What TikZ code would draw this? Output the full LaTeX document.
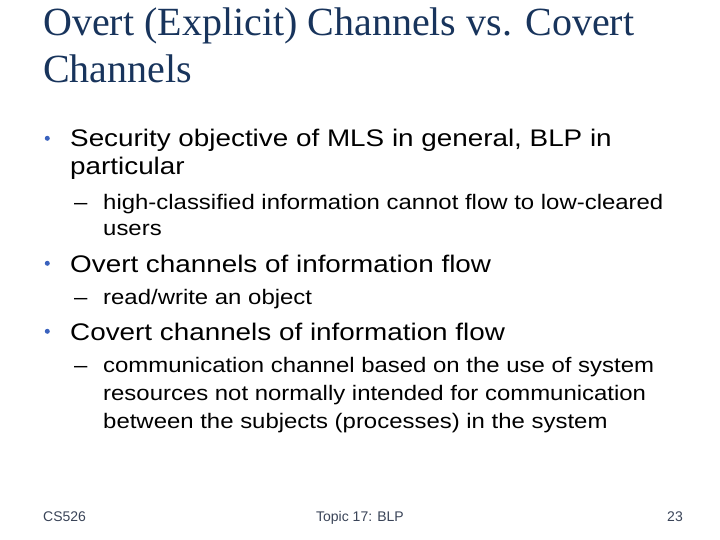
\documentclass[tikz,border=0pt]{standalone}
\usepackage{fontspec}
\setmainfont{Liberation Sans}
\newfontfamily\slidetitlefont{Liberation Serif}
\newfontfamily\itemfont[FakeStretch=1.16,Ligatures=TeX]{Liberation Sans}
\newfontfamily\subitemfont[FakeStretch=1.14,Ligatures=TeX]{Liberation Sans}
\definecolor{titleblue}{RGB}{24,52,92}
\definecolor{dotblue}{RGB}{58,98,190}
\definecolor{footgray}{RGB}{58,68,88}

\begin{document}
\begin{tikzpicture}[x=1pt,y=-1pt,
	slidetitle/.style={anchor=base west, inner sep=0pt, align=left, text=titleblue, font=\slidetitlefont\fontsize{40}{47}\selectfont},
	item/.style={anchor=base west, inner sep=0pt, align=left, font=\itemfont\fontsize{24}{28}\selectfont},
	subitem/.style={anchor=base west, inner sep=0pt, align=left, font=\subitemfont\fontsize{21}{28}\selectfont},
	subdash/.style={anchor=base west, inner sep=0pt, font=\subitemfont\fontsize{21}{28}\selectfont},
	footer/.style={anchor=base, inner sep=0pt, text=footgray, font=\fontsize{14}{14}\selectfont}]
	\useasboundingbox [fill=white] (0,0) rectangle (720,540);
	% title (multi-line nodes sit on the baseline of their last line)
	\node (title) at (43,83) [slidetitle] {Overt (Explicit) Channels vs. Covert\\Channels};
	% bullets
	\foreach \y in {147,272,340}
	{
		\fill [dotblue] (47.3,\y-8.7) circle (2.5);
	}
	\node (security) at (70,175) [item] {Security objective of MLS in general, BLP in\\particular};
	\node (dashA) at (74,210) [subdash] {–};
	\node (highlow) at (103,236) [subitem, font=\subitemfont\fontsize{21}{26}\selectfont] {high-classified information cannot flow to low-cleared\\users};
	\node (overt) at (70,272) [item] {Overt channels of information flow};
	\node (dashB) at (74,304) [subdash] {–};
	\node (readwrite) at (103,304) [subitem] {read/write an object};
	\node (covert) at (70,340) [item] {Covert channels of information flow};
	\node (dashC) at (74,372) [subdash] {–};
	\node (commchan) at (103,428) [subitem] {communication channel based on the use of system\\resources not normally intended for communication\\between the subjects (processes) in the system};
	% footer
	\node (course) at (43,521) [footer, anchor=base west] {CS526};
	\node (topic) at (360,521) [footer] {Topic 17: BLP};
	\node (page) at (683,521) [footer, anchor=base east] {23};
\end{tikzpicture}
\end{document}
